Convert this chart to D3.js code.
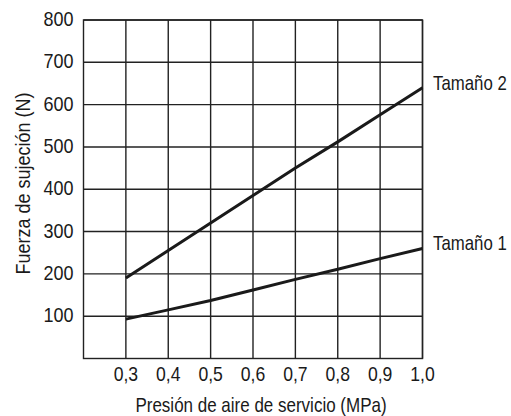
<!DOCTYPE html>
<html><head><meta charset="utf-8">
<script src="https://cdn.jsdelivr.net/npm/d3@7"></script>
<style>body{margin:0;background:#fff}text{font-family:"Liberation Sans",Arial,sans-serif;fill:#1a1a1a}</style>
</head><body>
<svg id="c" width="511" height="416"></svg>
<script>
const pressures = [0.3, 0.4, 0.5, 0.6, 0.7, 0.8, 0.9, 1.0];
const size1 = [93, 115, 137, 162, 187, 211, 236, 260];
const size2 = [190, 255, 320, 385, 450, 512, 576, 640];
const seriesNames = ["Tamaño 1", "Tamaño 2"];
const xTicks = [0.3, 0.4, 0.5, 0.6, 0.7, 0.8, 0.9, 1.0];
const yTicks = [100, 200, 300, 400, 500, 600, 700, 800];
const xTitle = "Presión de aire de servicio (MPa)";
const yTitle = "Fuerza de sujeción (N)";

const svg = d3.select("#c");
const m = {l: 83.5, r: 422.5, t: 20, b: 358.5};
const x = d3.scaleLinear().domain([0.2, 1.0]).range([m.l, m.r]);
const y = d3.scaleLinear().domain([0, 800]).range([m.b, m.t]);
const fmt = d => d3.format(".1f")(d).replace(".", ",");
const FS = 20;

// grid
const g = svg.append("g");
g.selectAll("line.v").data(xTicks).join("line")
  .attr("x1", d => x(d)).attr("x2", d => x(d)).attr("y1", m.t).attr("y2", m.b)
  .attr("stroke", "#222").attr("stroke-width", 1.4);
g.selectAll("line.h").data(yTicks).join("line")
  .attr("x1", m.l).attr("x2", m.r).attr("y1", d => y(d)).attr("y2", d => y(d))
  .attr("stroke", "#222").attr("stroke-width", 1.4);
g.append("rect").attr("x", m.l).attr("y", m.t).attr("width", m.r - m.l).attr("height", m.b - m.t)
  .attr("fill", "none").attr("stroke", "#222").attr("stroke-width", 1.4);

// tick labels
svg.append("g").selectAll("text").data(xTicks).join("text")
  .attr("transform", d => `translate(${x(d)},380.5) scale(0.88,1)`)
  .attr("text-anchor", "middle").attr("font-size", FS).text(fmt);
svg.append("g").selectAll("text").data(yTicks).join("text")
  .attr("transform", d => `translate(73.5,${y(d) + 6}) scale(0.9,1)`)
  .attr("text-anchor", "end").attr("font-size", FS).text(d => d);

// titles
svg.append("text").attr("transform", `translate(261,412) scale(0.85,1)`)
  .attr("text-anchor", "middle").attr("font-size", FS).text(xTitle);
svg.append("text").attr("transform", `translate(30,183.5) rotate(-90) scale(0.9,1)`)
  .attr("text-anchor", "middle").attr("font-size", FS).text(yTitle);

// lines
const line = d3.line().x(d => x(d[0])).y(d => y(d[1]));
const series = [size1, size2];
series.forEach((vals, i) => {
  const pts = pressures.map((p, j) => [p, vals[j]]);
  svg.append("path").attr("d", line(pts)).attr("fill", "none")
    .attr("stroke", "#1a1a1a").attr("stroke-width", 3).attr("stroke-linecap", "butt");
  const last = pts[pts.length - 1];
  svg.append("text").attr("transform", `translate(${x(last[0]) + 10.5},${y(last[1]) + 2}) scale(0.84,1)`)
    .attr("font-size", FS).text(seriesNames[i]);
});
</script>
</body></html>
